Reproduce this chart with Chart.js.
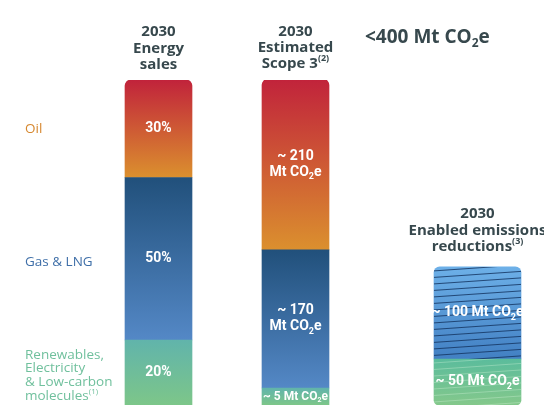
<!DOCTYPE html>
<html>
<head>
<meta charset="utf-8">
<script src="https://cdn.jsdelivr.net/npm/chart.js@4.4.1/dist/chart.umd.min.js"></script>
<style>
  html, body { margin: 0; padding: 0; background: #fff; overflow: hidden; width: 544px; height: 405px; }
  canvas { display: block; }
</style>
</head>
<body>
<!-- the canvas runs past the right edge of the page, like the cropped original -->
<canvas id="chart" width="591" height="405"></canvas>
<script>
// column headings (lines), "_2" = subscript, "^(n)" = footnote mark
const columnTitles = [
  ['2030', 'Energy', 'sales'],
  ['2030', 'Estimated', 'Scope 3^(2)'],
  ['2030', 'Enabled emissions', 'reductions^(3)']
];
// segments, top to bottom
const segmentLabels = [
  ['Oil'],
  ['Gas & LNG'],
  ['Renewables,', 'Electricity', '& Low-carbon', 'molecules^(1)']
];
const salesShare = [30, 50, 20];   // % of 2030 energy sales
const scope3Mt = [210, 170, 5];    // Mt CO2e
const enabledMt = [100, 50];       // Mt CO2e: hatched blue, green
const scope3Ceiling = 400;

const HEAD = "'Open Sans', 'DejaVu Sans', sans-serif";
const BODY = "Roboto, 'Liberation Sans', sans-serif";
const INK = '#37484d';

const fills = [
  ['#c1233b', '#db902e'],  // oil
  ['#21507b', '#5488c6'],  // gas
  ['#61b4ab', '#7dc689']   // low-carbon
];
const hatchFill = ['#6db0e8', '#4280c3'];
const enabledLowFill = ['#5bbc9c', '#84c88b'];
const legendInk = ['#d6872e', '#3f6fa8', '#70c09d'];

// vertical gradient over one stacked segment (stacking follows minBarLength like the bars do)
function gradientFill(stops) {
  return (c) => {
    const chart = c.chart;
    if (!chart.chartArea) return stops[0];
    const ds = chart.data.datasets[c.datasetIndex];
    const scale = chart.scales[ds.yAxisID];
    const zero = scale.getPixelForValue(0);
    const span = (d) => Math.max(zero - scale.getPixelForValue(d.data[c.dataIndex] || 0), d.minBarLength || 0);
    let bottom = zero;
    chart.data.datasets.forEach((d, i) => {
      if (i < c.datasetIndex && d.yAxisID === ds.yAxisID) bottom -= span(d);
    });
    const top = bottom - span(ds);
    const g = chart.ctx.createLinearGradient(0, top, 0, bottom);
    g.addColorStop(0, stops[0]);
    g.addColorStop(1, stops[1]);
    return g;
  };
}

const topRound = { topLeft: 6, topRight: 6, bottomLeft: 0, bottomRight: 0 };
const bottomRound = { topLeft: 0, topRight: 0, bottomLeft: 5, bottomRight: 5 };
const stackOrder = [2, 1, 0]; // low-carbon at the base, oil on top

const salesSets = stackOrder.map((k) => ({
  label: segmentLabels[k].join(' '),
  data: [salesShare[k], null],
  xAxisID: 'xLeft', yAxisID: 'yShare',
  backgroundColor: gradientFill(fills[k]),
  borderRadius: k === 0 ? topRound : 0,
  barThickness: 67,
  inside: [salesShare[k] + '%'], insideSize: 14
}));

const scope3Sets = stackOrder.map((k) => ({
  label: segmentLabels[k].join(' '),
  data: [null, scope3Mt[k]],
  xAxisID: 'xLeft', yAxisID: 'yScope3',
  backgroundColor: gradientFill(fills[k]),
  borderRadius: k === 0 ? topRound : 0,
  barThickness: 67,
  minBarLength: k === 2 ? 17 : 0,
  inside: k === 2 ? ['~ ' + scope3Mt[k] + ' Mt CO_2e'] : ['~ ' + scope3Mt[k], 'Mt CO_2e'],
  insideSize: k === 2 ? 12 : 14
}));

const enabledSets = [
  {
    label: 'Enabled reductions (low-carbon)',
    data: [enabledMt[1]],
    xAxisID: 'xRight', yAxisID: 'yEnabled',
    backgroundColor: gradientFill(enabledLowFill),
    borderRadius: bottomRound,
    barThickness: 87,
    inside: ['~ ' + enabledMt[1] + ' Mt CO_2e'], insideSize: 14, hatch: 'rgba(215,245,220,0.35)'
  },
  {
    label: 'Enabled reductions',
    data: [enabledMt[0]],
    xAxisID: 'xRight', yAxisID: 'yEnabled',
    backgroundColor: gradientFill(hatchFill),
    borderRadius: topRound,
    barThickness: 87,
    inside: ['~ ' + enabledMt[0] + ' Mt CO_2e'], insideSize: 14, hatch: 'rgba(22,55,100,0.85)'
  }
];

function tokens(str) {
  const out = [];
  const re = /_(\d)|\^(\(\d\))/g;
  let last = 0, m;
  while ((m = re.exec(str))) {
    if (m.index > last) out.push({ t: str.slice(last, m.index), k: 0 });
    out.push(m[1] ? { t: m[1], k: 1 } : { t: m[2], k: 2 });
    last = re.lastIndex;
  }
  if (last < str.length) out.push({ t: str.slice(last), k: 0 });
  return out;
}

function drawRich(ctx, str, x, y, size, weight, family, align) {
  const parts = tokens(str);
  const fontFor = (k) => `${weight} ${k ? Math.round(size * 0.62) : size}px ${family}`;
  let width = 0;
  parts.forEach((p) => { ctx.font = fontFor(p.k); p.w = ctx.measureText(p.t).width; width += p.w; });
  let cx = align === 'center' ? x - width / 2 : x;
  ctx.textAlign = 'left';
  ctx.textBaseline = 'middle';
  parts.forEach((p) => {
    ctx.font = fontFor(p.k);
    const dy = p.k === 1 ? size * 0.32 : p.k === 2 ? -size * 0.35 : 0;
    ctx.fillText(p.t, cx, y + dy);
    cx += p.w;
  });
}

const overlay = {
  id: 'overlay',
  afterDatasetsDraw(chart) {
    const ctx = chart.ctx;
    const sets = chart.data.datasets;

    // thin slanted lines over the enabled-reductions bar
    sets.forEach((ds, i) => {
      if (!ds.hatch) return;
      const el = chart.getDatasetMeta(i).data[0];
      const left = el.x - el.width / 2;
      ctx.save();
      ctx.beginPath();
      ctx.rect(left, el.y, el.width, el.base - el.y);
      ctx.clip();
      ctx.strokeStyle = ds.hatch;
      ctx.lineWidth = 1;
      for (let y = el.y + 4; y < el.base + 8; y += 6.5) {
        ctx.beginPath();
        ctx.moveTo(left, y);
        ctx.lineTo(left + el.width, y - 6);
        ctx.stroke();
      }
      ctx.restore();
    });

    // values inside the segments
    ctx.fillStyle = '#fff';
    sets.forEach((ds, i) => {
      chart.getDatasetMeta(i).data.forEach((el, j) => {
        if (ds.data[j] == null) return;
        const mid = (el.y + el.base) / 2;
        const n = ds.inside.length;
        ds.inside.forEach((line, li) => {
          drawRich(ctx, line, el.x, mid + (li - (n - 1) / 2) * 16, ds.insideSize, 'bold', BODY, 'center');
        });
      });
    });

    // column headings
    ctx.fillStyle = INK;
    const tops = [
      chart.getDatasetMeta(2).data[0],
      chart.getDatasetMeta(5).data[1],
      chart.getDatasetMeta(7).data[0]
    ];
    const lift = [48, 48, 53];
    const gap = [16.3, 16.3, 16.5];
    columnTitles.forEach((lines, c) => {
      const el = tops[c];
      lines.forEach((line, li) => {
        drawRich(ctx, line, el.x, el.y - lift[c] + li * gap[c], 15, 'bold', HEAD, 'center');
      });
    });

    // scope 3 ceiling
    const s3 = tops[1];
    drawRich(ctx, '<' + scope3Ceiling + ' Mt CO_2e', s3.x + s3.width / 2 + 36, s3.y - 42, 19, 'bold', HEAD, 'left');

    // segment names beside the first column
    const salesMeta = [2, 1, 0].map((i) => chart.getDatasetMeta(i).data[0]);
    segmentLabels.forEach((lines, k) => {
      const el = salesMeta[k];
      const mid = (el.y + el.base) / 2 + (k ? 3 : 0);
      ctx.fillStyle = legendInk[k];
      lines.forEach((line, li) => {
        drawRich(ctx, line, el.x - el.width / 2 - 100, mid + (li - (lines.length - 1) / 2) * 13.8, 13.5, 'normal', HEAD, 'left');
      });
    });
  }
};

new Chart(document.getElementById('chart'), {
  type: 'bar',
  data: { datasets: [...salesSets, ...scope3Sets, ...enabledSets] },
  options: {
    responsive: false,
    animation: false,
    layout: { padding: { left: 90, right: 0, top: 80, bottom: 0 } },
    plugins: { legend: { display: false }, tooltip: { enabled: false } },
    // one bar per category on each x axis, so no side-by-side grouping
    datasets: { bar: { borderSkipped: false, grouped: false } },
    scales: {
      xLeft: { axis: 'x', type: 'category', labels: [columnTitles[0].join(' '), columnTitles[1].join(' ')], stacked: true, offset: true, display: false, stack: 'cols', stackWeight: 274 },
      xRight: { axis: 'x', type: 'category', labels: [columnTitles[2].join(' ')], stacked: true, offset: true, display: false, stack: 'cols', stackWeight: 227 },
      yShare: { axis: 'y', min: 0, max: 100, stacked: true, display: false },
      yScope3: { axis: 'y', min: 0, max: scope3Ceiling, stacked: true, display: false },
      yEnabled: { axis: 'y', min: 0, max: 353, stacked: true, display: false }
    }
  },
  plugins: [overlay]
});
</script>
</body>
</html>
